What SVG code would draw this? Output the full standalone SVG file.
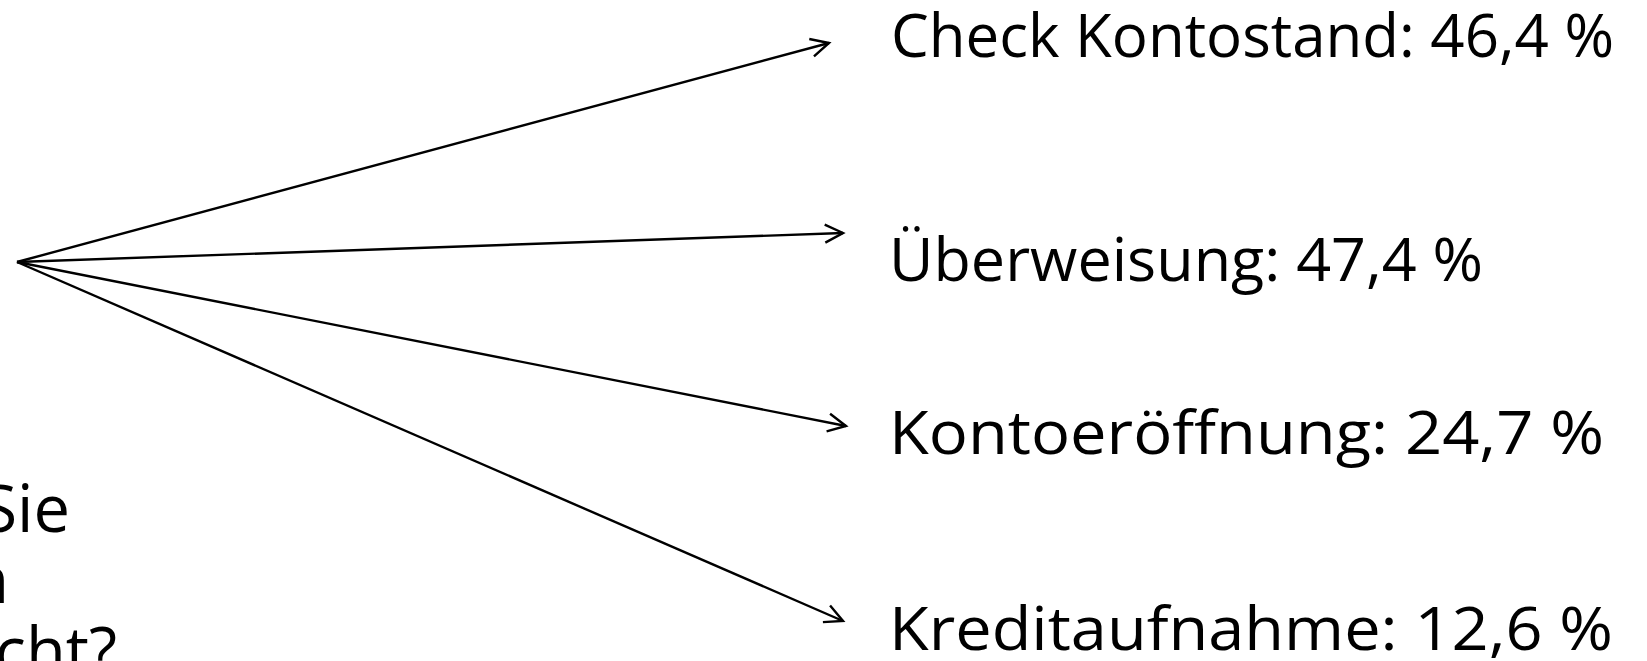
<svg xmlns="http://www.w3.org/2000/svg" width="1647" height="661" viewBox="0 0 1647 661">
  <defs>
    <style>
      .lbl { font-family: "Open Sans", "Noto Sans", "Liberation Sans", sans-serif; font-size: 61px; fill: #000; }
      .q { font-family: "Open Sans", "Noto Sans", "Liberation Sans", sans-serif; font-size: 65px; fill: #000; }
      .edge { stroke: #000; stroke-width: 2.4; fill: none; marker-end: url(#arr); }
    </style>
    <marker id="arr" markerUnits="userSpaceOnUse" viewBox="-20 -11 22 22" refX="0" refY="0" markerWidth="22" markerHeight="22" orient="auto" overflow="visible">
      <path d="M-18,-9 L0,0 L-18,9" fill="none" stroke="#000" stroke-width="2.4" stroke-linejoin="miter"/>
    </marker>
  </defs>
  <rect width="1647" height="661" fill="#fff"/>

  <g id="question">
    <text class="q" x="70" y="532" text-anchor="end">Sie</text>
    <text class="q" x="9" y="603" text-anchor="end">n</text>
    <text class="q" x="117" y="674" text-anchor="end">cht?</text>
  </g>

  <g id="connectors">
    <line class="edge" x1="17" y1="262" x2="829" y2="43"/>
    <line class="edge" x1="17" y1="262" x2="843" y2="233"/>
    <line class="edge" x1="17" y1="262" x2="846" y2="426"/>
    <line class="edge" x1="17" y1="262" x2="843" y2="621"/>
  </g>

  <g id="node-kontostand">
    <text class="lbl" x="891" y="57" textLength="723" lengthAdjust="spacingAndGlyphs">Check Kontostand: 46,4 %</text>
  </g>
  <g id="node-ueberweisung">
    <text class="lbl" x="889" y="281" textLength="594" lengthAdjust="spacingAndGlyphs">Überweisung: 47,4 %</text>
  </g>
  <g id="node-kontoeroeffnung">
    <text class="lbl" x="889" y="454" textLength="715" lengthAdjust="spacingAndGlyphs">Kontoeröffnung: 24,7 %</text>
  </g>
  <g id="node-kreditaufnahme">
    <text class="lbl" x="889" y="650" textLength="724" lengthAdjust="spacingAndGlyphs">Kreditaufnahme: 12,6 %</text>
  </g>
</svg>
